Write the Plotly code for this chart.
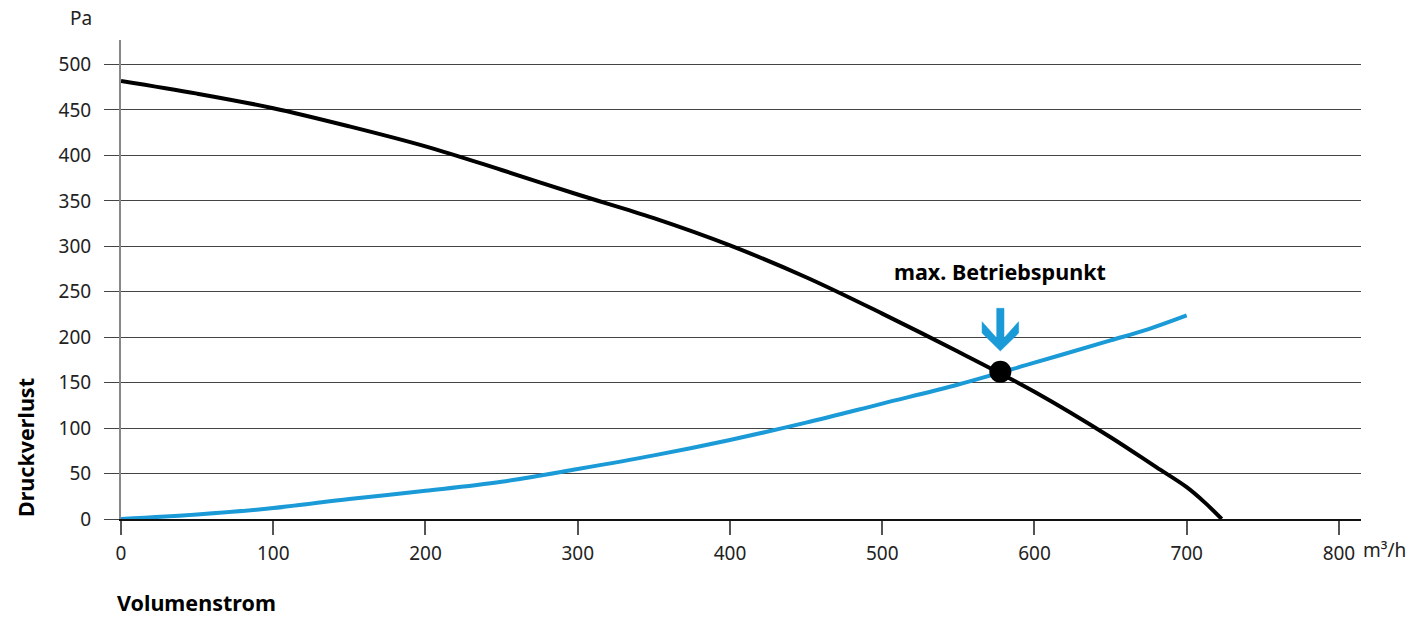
import plotly.graph_objects as go

# Fan curve (Druckverlust vs Volumenstrom)
fan_x = [0, 50, 100, 150, 200, 250, 300, 350, 400, 450, 500, 550, 600, 650, 680, 700, 712, 723]
fan_y = [482, 468, 452, 432, 410, 384, 357, 331, 301, 266, 226, 184, 140, 90, 57, 35, 18, 0]

# System curve
sys_x = [0, 50, 100, 150, 200, 250, 300, 350, 400, 450, 500, 550, 600, 650, 675, 700]
sys_y = [0, 5, 12, 22, 31, 41, 55, 70, 87, 106, 127, 148, 172, 196.5, 209, 224]

# Operating point
op_x = [577.6]
op_y = [162]

x_ticks = [0, 100, 200, 300, 400, 500, 600, 700, 800]
y_ticks = [0, 50, 100, 150, 200, 250, 300, 350, 400, 450, 500]

BLUE = "#1a9ad6"
FONT = "Noto Sans"
TICK_SIZE = 19
BOLD_SIZE = 21.5

fig = go.Figure()
fig.add_trace(go.Scatter(x=sys_x, y=sys_y, mode="lines", line=dict(color=BLUE, width=4, shape="spline"),
                         hoverinfo="skip", showlegend=False))
fig.add_trace(go.Scatter(x=fan_x, y=fan_y, mode="lines", line=dict(color="#000000", width=4, shape="spline"),
                         hoverinfo="skip", showlegend=False))

# Arrow (filled polygon) pointing down to the operating point
cx = op_x[0]
stem_hw, arm_hw = 2.4, 12.0
top, notch, arm_top, arm_bot, tip = 231.8, 199.1, 217.1, 204.6, 184.8
arrow_x = [cx - stem_hw, cx + stem_hw, cx + stem_hw, cx + arm_hw, cx + arm_hw, cx,
           cx - arm_hw, cx - arm_hw, cx - stem_hw, cx - stem_hw]
arrow_y = [top, top, notch, arm_top, arm_bot, tip, arm_bot, arm_top, notch, top]
fig.add_trace(go.Scatter(x=arrow_x, y=arrow_y, mode="lines", fill="toself", fillcolor=BLUE,
                         line=dict(color=BLUE, width=0.5), hoverinfo="skip", showlegend=False))

fig.add_trace(go.Scatter(x=op_x, y=op_y, mode="markers", marker=dict(color="#000000", size=22),
                         hoverinfo="skip", showlegend=False))

fig.update_layout(
    width=1421, height=618,
    margin=dict(l=121, r=60, t=40, b=99),
    plot_bgcolor="white", paper_bgcolor="white",
    font=dict(family=FONT, size=TICK_SIZE, color="#222222"),
    xaxis=dict(range=[0, 814.5], tickvals=x_ticks, ticktext=[str(v) for v in x_ticks],
               showgrid=False, zeroline=False, showline=True, linecolor="#111111", linewidth=1.5,
               ticks="outside", ticklen=14, tickcolor="#555555", tickwidth=1.5,
               ticklabelstandoff=2,
               tickfont=dict(size=TICK_SIZE, color="#222222")),
    yaxis=dict(range=[0, 527], tickvals=y_ticks, showgrid=True, gridcolor="#444444", gridwidth=1.2,
               zeroline=False, showline=True, linecolor="#888888", linewidth=2,
               ticks="outside", ticklen=15, tickcolor="#444444", tickwidth=1.2,
               ticklabelstandoff=9,
               tickfont=dict(size=TICK_SIZE, color="#222222")),
)

fig.add_annotation(text="Pa", xref="paper", yref="paper", x=0, y=1.0, xshift=-27, yshift=22,
                   xanchor="right", yanchor="middle", showarrow=False, font=dict(size=TICK_SIZE, color="#222222"))
fig.add_annotation(text="m³/h", xref="x", yref="paper", x=800, y=0, xshift=22, yshift=-31,
                   xanchor="left", yanchor="middle", showarrow=False, font=dict(size=TICK_SIZE, color="#222222"))
fig.add_annotation(text="<b>Druckverlust</b>", xref="paper", yref="y", x=0, y=0, xshift=-112,
                   xanchor="left", yanchor="bottom", textangle=-90, showarrow=False,
                   font=dict(size=BOLD_SIZE, color="#000000"))
fig.add_annotation(text="<b>Volumenstrom</b>", xref="paper", yref="paper", x=0, y=0, xshift=-6, yshift=-83,
                   xanchor="left", yanchor="middle", showarrow=False, font=dict(size=BOLD_SIZE, color="#000000"))
fig.add_annotation(text="<b>max. Betriebspunkt</b>", xref="x", yref="y", x=op_x[0], y=272,
                   xanchor="center", yanchor="middle", showarrow=False, font=dict(size=BOLD_SIZE, color="#000000"))

fig.write_html("out.html", config={"displayModeBar": False},
               post_script="document.body.style.margin='0';document.body.style.overflow='hidden';")
